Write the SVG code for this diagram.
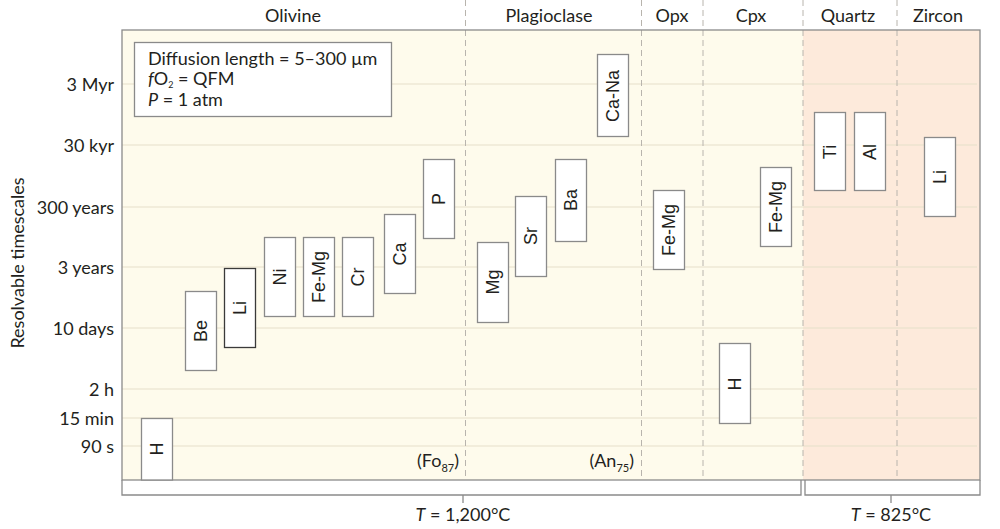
<svg xmlns="http://www.w3.org/2000/svg" width="1000" height="529" viewBox="0 0 1000 529">
<style>
.t{font-family:Lato,"Open Sans","Liberation Sans",sans-serif;fill:#231f20;font-size:18px}
.hd{text-anchor:middle}
.yl{text-anchor:end}
.grid{stroke:#e6e0c9;stroke-width:1.2}
.dash{stroke:#b8b4ad;stroke-width:1;stroke-dasharray:6 4}
.bx{fill:#ffffff;stroke:#8a8a8a;stroke-width:1.3}
.bl{font-family:"Liberation Sans",Arial,sans-serif;font-size:18px;fill:#231f20;text-anchor:middle;dominant-baseline:central}
.fr{fill:none;stroke:#8a8a8a;stroke-width:1.3}
</style>
<rect width="1000" height="529" fill="#ffffff"/>
<!-- backgrounds -->
<rect x="122" y="30" width="681" height="450" fill="#fefbec"/>
<rect x="803" y="30" width="177" height="450" fill="#fdeadb"/>
<!-- gridlines -->
<g id="grid">
<line class="grid" x1="122" y1="84" x2="977" y2="84"/>
<line class="grid" x1="122" y1="145" x2="977" y2="145"/>
<line class="grid" x1="122" y1="207" x2="977" y2="207"/>
<line class="grid" x1="122" y1="267" x2="977" y2="267"/>
<line class="grid" x1="122" y1="328" x2="977" y2="328"/>
<line class="grid" x1="122" y1="389" x2="977" y2="389"/>
<line class="grid" x1="122" y1="418" x2="977" y2="418"/>
<line class="grid" x1="122" y1="446" x2="977" y2="446"/>
</g>
<!-- dashed dividers -->
<g id="dividers">
<line class="dash" x1="465.5" y1="0" x2="465.5" y2="480"/>
<line class="dash" x1="641.5" y1="0" x2="641.5" y2="480"/>
<line class="dash" x1="703" y1="0" x2="703" y2="480"/>
<line class="dash" x1="803" y1="0" x2="803" y2="480"/>
<line class="dash" x1="897" y1="0" x2="897" y2="480"/>
</g>
<!-- frame -->
<rect class="fr" x="122" y="30" width="858" height="450"/>
<!-- brackets -->
<g id="brackets">
<path class="fr" d="M122 480 V495 H801 V480"/>
<path class="fr" d="M805 480 V495 H980 V480"/>
<line class="fr" x1="463" y1="495" x2="463" y2="503"/>
<line class="fr" x1="891" y1="495" x2="891" y2="503"/>
<text class="t hd" x="463" y="521"><tspan font-style="italic">T</tspan> = 1,200°C</text>
<text class="t hd" x="891" y="521"><tspan font-style="italic">T</tspan> = 825°C</text>
</g>
<!-- column headers -->
<g id="headers">
<text class="t hd" x="293" y="22">Olivine</text>
<text class="t hd" x="549" y="22">Plagioclase</text>
<text class="t hd" x="672" y="22">Opx</text>
<text class="t hd" x="751" y="22">Cpx</text>
<text class="t hd" x="848" y="22">Quartz</text>
<text class="t hd" x="938" y="22">Zircon</text>
</g>
<!-- y axis -->
<g id="yaxis">
<text class="t" text-anchor="middle" font-size="19" transform="translate(24 263) rotate(-90)">Resolvable timescales</text>
<text class="t yl" x="114" y="91">3 Myr</text>
<text class="t yl" x="114" y="152">30 kyr</text>
<text class="t yl" x="114" y="214">300 years</text>
<text class="t yl" x="114" y="274">3 years</text>
<text class="t yl" x="114" y="335">10 days</text>
<text class="t yl" x="114" y="396">2 h</text>
<text class="t yl" x="114" y="425">15 min</text>
<text class="t yl" x="114" y="453">90 s</text>
</g>
<!-- legend -->
<g id="legend">
<rect x="134.5" y="42.5" width="257" height="74" fill="#ffffff" stroke="#8a8a8a" stroke-width="1.3"/>
<text class="t" x="148" y="65">Diffusion length = 5–300 µm</text>
<text class="t" x="148" y="85"><tspan font-style="italic">f</tspan>O<tspan font-size="9" dy="3">2</tspan><tspan dy="-3"> = QFM</tspan></text>
<text class="t" x="148" y="106"><tspan font-style="italic">P</tspan> = 1 atm</text>
</g>
<!-- composition notes -->
<text class="t" x="459" y="467" text-anchor="end">(Fo<tspan font-size="11" dy="5">87</tspan><tspan dy="-5">)</tspan></text>
<text class="t" x="634" y="467" text-anchor="end">(An<tspan font-size="11" dy="5">75</tspan><tspan dy="-5">)</tspan></text>
<!-- nodes -->
<g id="ol-H"><rect class="bx" x="141.5" y="418.5" width="31" height="61.5"/><text class="bl" transform="translate(157 449) rotate(-90)">H</text></g>
<g id="ol-Be"><rect class="bx" x="185.5" y="291.5" width="31" height="79"/><text class="bl" transform="translate(201 331) rotate(-90)">Be</text></g>
<g id="ol-Li"><rect class="bx" x="224.5" y="268.5" width="31" height="79" style="stroke:#3a3a3a"/><text class="bl" transform="translate(240 308) rotate(-90)">Li</text></g>
<g id="ol-Ni"><rect class="bx" x="264.5" y="237.5" width="31" height="79"/><text class="bl" transform="translate(280 277) rotate(-90)">Ni</text></g>
<g id="ol-FeMg"><rect class="bx" x="303.5" y="237.5" width="31" height="79"/><text class="bl" transform="translate(319 277) rotate(-90)">Fe-Mg</text></g>
<g id="ol-Cr"><rect class="bx" x="342.5" y="237.5" width="31" height="79"/><text class="bl" transform="translate(358 277) rotate(-90)">Cr</text></g>
<g id="ol-Ca"><rect class="bx" x="384.5" y="214.5" width="31" height="79"/><text class="bl" transform="translate(400 254) rotate(-90)">Ca</text></g>
<g id="ol-P"><rect class="bx" x="423.5" y="159.5" width="31" height="79"/><text class="bl" transform="translate(439 199) rotate(-90)">P</text></g>
<g id="pl-Mg"><rect class="bx" x="477.5" y="242.5" width="31" height="80"/><text class="bl" transform="translate(493 282) rotate(-90)">Mg</text></g>
<g id="pl-Sr"><rect class="bx" x="515.5" y="196.5" width="31" height="80"/><text class="bl" transform="translate(531 236) rotate(-90)">Sr</text></g>
<g id="pl-Ba"><rect class="bx" x="555.5" y="159.5" width="31" height="82"/><text class="bl" transform="translate(571 200) rotate(-90)">Ba</text></g>
<g id="pl-CaNa"><rect class="bx" x="597.5" y="54.5" width="31" height="82"/><text class="bl" transform="translate(613 96) rotate(-90)">Ca-Na</text></g>
<g id="opx-FeMg"><rect class="bx" x="653.5" y="190.5" width="31" height="79"/><text class="bl" transform="translate(669 230) rotate(-90)">Fe-Mg</text></g>
<g id="cpx-H"><rect class="bx" x="719.5" y="343.5" width="31" height="80"/><text class="bl" transform="translate(735 384) rotate(-90)">H</text></g>
<g id="cpx-FeMg"><rect class="bx" x="760.5" y="167.5" width="31" height="79"/><text class="bl" transform="translate(776 207) rotate(-90)">Fe-Mg</text></g>
<g id="qz-Ti"><rect class="bx" x="814.5" y="112.5" width="31" height="78"/><text class="bl" transform="translate(830 152) rotate(-90)">Ti</text></g>
<g id="qz-Al"><rect class="bx" x="854.5" y="112.5" width="31" height="78"/><text class="bl" transform="translate(870 152) rotate(-90)">Al</text></g>
<g id="zr-Li"><rect class="bx" x="924.5" y="137.5" width="31" height="79"/><text class="bl" transform="translate(940 177) rotate(-90)">Li</text></g>
</svg>
